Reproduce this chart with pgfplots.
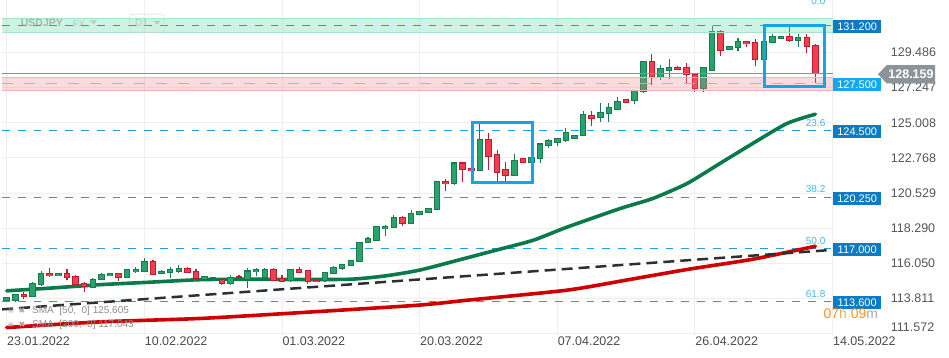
\documentclass[border=0pt]{standalone}
\usepackage{fontspec}
\setmainfont{Liberation Sans}
\newfontfamily\dejavu{DejaVu Sans}
\usepackage{pgfplots}
\usepackage{pgfplotstable}
\pgfplotsset{compat=1.18}

\definecolor{gbody}{HTML}{26A46C}
\definecolor{gedge}{HTML}{1B7A4D}
\definecolor{rbody}{HTML}{F23F50}
\definecolor{redge}{HTML}{C21B2E}
\definecolor{smaG}{HTML}{0B7A4B}
\definecolor{smaR}{HTML}{D10000}
\definecolor{fib}{HTML}{1D9EE5}
\definecolor{fibtxt}{HTML}{45B5F0}
\definecolor{boxdark}{HTML}{0C7BC3}
\definecolor{boxlight}{HTML}{14A8EE}
\definecolor{hibox}{HTML}{12A5EC}
\definecolor{gridcol}{HTML}{EFEFEF}
\definecolor{tickcol}{HTML}{555555}
\definecolor{datecol}{HTML}{4A4A4A}
\definecolor{gband}{HTML}{6FDCB4}
\definecolor{gbandedge}{HTML}{A3E4CB}
\definecolor{rband}{HTML}{F27E89}
\definecolor{rbandedge}{HTML}{F3B4B9}
\definecolor{supline}{HTML}{A0B9D6}
\definecolor{pricegray}{HTML}{8A9499}
\definecolor{trend}{HTML}{2B3035}
\definecolor{orange}{HTML}{F7941D}

% candles: index, open, high, low, close
\pgfplotstableread{
i o h l c
0 113.71 113.92 113.66 113.88
1 113.66 114.12 113.62 114.09
3 113.92 114.85 113.88 114.77
4 114.68 115.57 114.58 115.40
6 115.27 115.44 115.24 115.40
10 114.51 115.10 114.48 115.04
11 115.04 115.46 115.00 115.31
12 115.27 115.44 115.24 115.40
14 115.15 115.71 115.12 115.67
15 115.52 115.82 115.46 115.67
16 115.56 116.37 115.53 116.16
18 115.40 115.60 115.37 115.56
19 115.46 115.82 115.10 115.67
20 115.56 115.93 115.46 115.74
23 115.06 115.25 115.04 115.21
24 115.10 115.18 115.06 115.14
26 114.77 115.29 114.64 115.15
28 115.04 115.74 114.48 115.56
29 115.53 115.74 115.25 115.65
30 115.15 115.74 115.10 115.65
33 114.93 115.72 114.89 115.65
37 114.93 115.53 114.89 115.46
38 115.40 115.86 115.36 115.78
39 115.72 116.02 115.62 115.99
40 115.89 116.28 115.86 116.25
41 116.16 117.40 116.13 117.37
42 117.37 117.70 117.34 117.66
43 117.53 118.42 117.50 118.38
44 118.26 118.47 117.79 118.38
45 118.32 119.16 118.28 118.95
47 118.57 119.42 118.54 119.21
48 119.16 119.38 119.12 119.34
49 119.27 119.57 119.24 119.53
50 119.48 121.30 119.45 121.24
52 121.11 122.47 121.05 122.44
55 121.98 124.98 121.95 123.92
59 121.64 123.03 121.60 122.59
61 122.48 122.86 122.45 122.82
62 122.76 123.70 122.44 123.65
63 123.56 124.00 123.40 123.86
64 123.75 124.00 123.50 123.97
65 123.90 124.66 123.80 124.41
66 124.03 124.25 124.00 124.22
67 124.18 125.76 124.15 125.51
69 125.36 126.25 125.08 125.68
70 125.57 126.25 125.08 125.95
71 125.87 126.62 125.84 126.38
73 126.40 127.12 126.20 127.08
74 126.99 128.96 126.90 128.93
76 127.88 128.68 127.73 128.43
77 128.34 129.05 127.79 128.55
81 127.16 128.55 126.95 128.51
82 128.36 131.16 128.33 130.79
84 129.68 129.92 129.65 129.89
85 129.78 130.41 129.59 130.20
88 129.04 130.23 129.00 130.20
89 130.12 130.69 130.06 130.52
90 130.37 130.55 130.34 130.52
92 130.22 130.69 129.80 130.46
}\greentab

\pgfplotstableread{
i o h l c
2 114.09 114.20 113.81 113.92
5 115.40 115.74 115.15 115.25
7 115.40 115.68 114.98 115.15
8 115.21 115.30 114.65 114.72
9 114.77 114.85 114.23 114.60
13 115.40 115.44 114.93 115.15
17 116.16 116.25 115.30 115.36
21 115.74 115.82 115.46 115.50
22 115.56 115.67 114.98 115.10
25 115.02 115.10 114.70 114.77
27 115.21 115.29 115.10 115.15
31 115.65 115.74 114.93 114.98
32 115.10 115.29 114.85 114.89
34 115.67 115.84 115.48 115.50
35 115.59 115.62 114.72 114.89
36 114.98 115.02 114.86 114.89
46 118.95 119.04 118.42 118.57
51 121.24 121.43 120.64 121.11
53 122.44 122.50 121.21 122.06
54 122.06 122.10 121.90 121.94
56 123.92 124.35 121.99 122.86
57 122.97 123.24 121.32 121.85
58 122.02 122.48 121.32 121.64
60 122.70 122.74 122.45 122.48
68 125.47 125.76 124.77 125.30
72 126.46 126.50 126.28 126.32
75 128.93 129.38 127.41 127.88
78 128.55 128.60 128.38 128.41
79 128.55 128.81 127.52 128.09
80 128.09 128.12 126.99 127.16
83 130.79 130.90 129.27 129.63
86 130.20 130.24 129.80 130.03
87 130.14 130.33 128.64 129.04
91 130.52 131.11 130.12 130.22
93 130.46 130.69 129.42 129.84
94 129.95 130.00 127.52 128.16
}\redtab

\begin{document}
\begin{tikzpicture}
\path[use as bounding box] (-2pt,-23pt) rectangle (947pt,335pt);
\begin{axis}[
  at={(0pt,0pt)}, anchor=south west,
  scale only axis, width=831pt, height=335pt,
  xmin=-0.55, xmax=96.05, ymin=111.486, ymax=132.824,
  axis line style={draw=none},
  major tick length=0pt,
  clip mode=individual,
  grid=major,
  major grid style={draw=gridcol, line width=1pt},
  xtick={0,16,32,48,64,80,96},
  xticklabels={23.01.2022,10.02.2022,01.03.2022,20.03.2022,07.04.2022,26.04.2022,14.05.2022},
  xticklabel style={anchor=north west, inner sep=0pt, xshift=0.3pt, yshift=-1.8pt,
    font=\fontsize{12.5}{14}\selectfont, text=datecol},
  ytick={113.811,116.050,118.290,120.529,122.768,125.008,127.247,129.486},
  yticklabels={113.811,116.050,118.290,120.529,122.768,125.008,127.247,129.486},
  yticklabel pos=right,
  yticklabel style={anchor=west, inner sep=0pt, xshift=57.7pt,
    font=\fontsize{12.5}{14}\selectfont, text=tickcol},
  extra y ticks={111.572},
  extra y tick labels={111.572},
  extra y tick style={yticklabel style={yshift=6.5pt}},
]

% fibonacci / level lines
\addplot[fib, line width=1.3pt, dash pattern=on 7.7pt off 8.1pt] coordinates {(-0.55,124.5) (96.05,124.5)};
\addplot[fib, line width=1.3pt, dash pattern=on 7.7pt off 8.1pt] coordinates {(-0.55,120.25) (96.05,120.25)};
\addplot[fib, line width=1.3pt, dash pattern=on 7.7pt off 8.1pt] coordinates {(-0.55,117.0) (96.05,117.0)};
\addplot[fib, line width=1.3pt, dash pattern=on 7.7pt off 8.1pt] coordinates {(-0.55,113.6) (96.05,113.6)};

% moving averages and trend line
\addplot[smaR, line width=3.6pt, smooth, tension=0.4, line join=round, line cap=round] coordinates {
(0,111.96) (10.8,112.32) (22.5,112.54) (34.1,112.91) (47.7,113.38) (53.5,113.70)
(65.1,114.34) (72.4,115.02) (79.1,115.66) (86.7,116.31) (94,117.14)};
\addplot[trend, line width=2.5pt, dash pattern=on 11pt off 6pt] coordinates {(-0.55,113.12) (95.3,116.88)};
\addplot[smaG, line width=3.6pt, smooth, tension=0.4, line join=round, line cap=round] coordinates {
(0,114.30) (5,114.47) (10.8,114.69) (16.7,114.85) (22.5,115.01) (28.3,115.04) (34,115.02)
(40,115.04) (44,115.25) (48,115.62) (53.5,116.40) (57.3,116.95) (61.2,117.52) (65.1,118.35)
(71.3,119.54) (75.1,120.18) (79.1,121.14) (82.9,122.41) (86.7,123.68) (90.7,124.96) (94,125.55)};

% wicks
\addplot[draw=none, mark=none, error bars/.cd, y dir=both, y explicit, error mark=none,
  error bar style={draw=gedge, line width=1.1pt}]
  table[x=i, y expr={(\thisrow{h}+\thisrow{l})/2}, y error expr={(\thisrow{h}-\thisrow{l})/2}] {\greentab};
\addplot[draw=none, mark=none, error bars/.cd, y dir=both, y explicit, error mark=none,
  error bar style={draw=redge, line width=1.1pt}]
  table[x=i, y expr={(\thisrow{h}+\thisrow{l})/2}, y error expr={(\thisrow{h}-\thisrow{l})/2}] {\redtab};
% bodies: edge
\addplot[draw=none, mark=none, error bars/.cd, y dir=both, y explicit, error mark=none,
  error bar style={draw=gedge, line width=6.5pt}]
  table[x=i, y expr={(\thisrow{o}+\thisrow{c})/2}, y error expr={max(abs(\thisrow{c}-\thisrow{o})/2,0.045)+0.035}] {\greentab};
\addplot[draw=none, mark=none, error bars/.cd, y dir=both, y explicit, error mark=none,
  error bar style={draw=redge, line width=6.5pt}]
  table[x=i, y expr={(\thisrow{o}+\thisrow{c})/2}, y error expr={max(abs(\thisrow{c}-\thisrow{o})/2,0.045)+0.035}] {\redtab};
% bodies: fill
\addplot[draw=none, mark=none, error bars/.cd, y dir=both, y explicit, error mark=none,
  error bar style={draw=gbody, line width=4.5pt}]
  table[x=i, y expr={(\thisrow{o}+\thisrow{c})/2}, y error expr={max(abs(\thisrow{c}-\thisrow{o})/2-0.03,0)}] {\greentab};
\addplot[draw=none, mark=none, error bars/.cd, y dir=both, y explicit, error mark=none,
  error bar style={draw=rbody, line width=4.5pt}]
  table[x=i, y expr={(\thisrow{o}+\thisrow{c})/2}, y error expr={max(abs(\thisrow{c}-\thisrow{o})/2-0.03,0)}] {\redtab};

% zones
\addplot[draw=none, fill=gband, fill opacity=0.35] coordinates {(-0.55,130.74) (96.05,130.74) (96.05,131.66) (-0.55,131.66)} -- cycle;
\addplot[gbandedge, line width=1pt] coordinates {(-0.55,130.74) (96.05,130.74)};
\addplot[gbandedge, line width=1pt] coordinates {(-0.55,131.66) (96.05,131.66)};
\addplot[draw=none, fill=rband, fill opacity=0.28] coordinates {(-0.55,127.09) (96.05,127.09) (96.05,127.88) (-0.55,127.88)} -- cycle;
\addplot[rbandedge, line width=1pt] coordinates {(-0.55,127.09) (96.05,127.09)};
\addplot[rbandedge, line width=1pt] coordinates {(-0.55,127.88) (96.05,127.88)};
\addplot[fib, line width=1.3pt, dash pattern=on 7.7pt off 8.1pt] coordinates {(-0.55,131.2) (96.05,131.2)};
\addplot[supline, line width=1.3pt, dash pattern=on 10.5pt off 11.5pt] coordinates {(-0.55,127.5) (96.05,127.5)};
% current price line
\addplot[pricegray, line width=1.2pt] coordinates {(-0.55,128.159) (96.05,128.159)};

% highlight boxes
\draw[hibox, line width=3pt] (axis cs:54.20,124.99) rectangle (axis cs:61.06,121.23);
\draw[hibox, line width=3pt] (axis cs:88.12,131.18) rectangle (axis cs:95.03,127.33);

% fib labels
\node[anchor=east, inner sep=0pt, text=fibtxt, font=\fontsize{10}{12}\selectfont] at (axis cs:95.18,132.73) {0.0};
\node[anchor=east, inner sep=0pt, text=fibtxt, font=\fontsize{10}{12}\selectfont] at (axis cs:95.18,125.0) {23.6};
\node[anchor=east, inner sep=0pt, text=fibtxt, font=\fontsize{10}{12}\selectfont] at (axis cs:95.18,120.75) {38.2};
\node[anchor=east, inner sep=0pt, text=fibtxt, font=\fontsize{10}{12}\selectfont] at (axis cs:95.18,117.5) {50.0};
\node[anchor=east, inner sep=0pt, text=fibtxt, font=\fontsize{10}{12}\selectfont] at (axis cs:95.18,114.1) {61.8};

\coordinate (b1) at (axis cs:96.05,131.2);
\coordinate (b2) at (axis cs:96.05,127.5);
\coordinate (b3) at (axis cs:96.05,124.5);
\coordinate (b4) at (axis cs:96.05,120.25);
\coordinate (b5) at (axis cs:96.05,117.0);
\coordinate (b6) at (axis cs:96.05,113.6);
\coordinate (pl) at (axis cs:96.05,128.159);
\end{axis}

% level boxes
\tikzset{lvl/.style={anchor=west, inner sep=0pt, minimum width=48pt, minimum height=12.7pt,
  text=white, font=\fontsize{11}{12}\selectfont}}
\node[lvl, fill=boxdark] at ([yshift=-1pt]b1) {131.200};
\node[lvl, fill=boxlight] at ([yshift=-1pt]b2) {127.500};
\node[lvl, fill=boxdark] at ([yshift=-1pt]b3) {124.500};
\node[lvl, fill=boxdark] at ([yshift=-1pt]b4) {120.250};
\node[lvl, fill=boxdark] at ([yshift=-1pt]b5) {117.000};
\node[lvl, fill=boxdark] at ([yshift=-1pt]b6) {113.600};

% current price label
\fill[pricegray] ([shift={(45pt,-1pt)}]pl) -- ([shift={(53.7pt,8.2pt)}]pl) -- ([shift={(102pt,8.2pt)}]pl)
  -- ([shift={(102pt,-10.2pt)}]pl) -- ([shift={(53.7pt,-10.2pt)}]pl) -- cycle;
\node[inner sep=0pt, text=white, font=\fontsize{12.5}{14}\selectfont\bfseries] at ([shift={(78pt,-1pt)}]pl) {128.159};

% timer
\node[anchor=west, inner sep=0pt, font=\fontsize{14}{16}\selectfont] at (821.3pt,21.5pt)
  {\textcolor{orange}{07}\textcolor[HTML]{E8B070}{h} \textcolor{orange}{09}\textcolor[HTML]{A8A8A8}{m}};

% indicator legend
\node[inner sep=0pt, text=black!35, font=\dejavu\fontsize{8}{9}\selectfont] at (9pt,24pt) {≡};
\node[inner sep=0pt, text=black!35, font=\dejavu\fontsize{8}{9}\selectfont] at (20pt,24pt) {✖};
\node[anchor=west, inner sep=0pt, text=black!45, font=\fontsize{10}{12}\selectfont] at (30pt,24pt) {SMA~~[50,~~0]~125.605};
\node[inner sep=0pt, text=black!35, font=\dejavu\fontsize{8}{9}\selectfont] at (9pt,10pt) {≡};
\node[inner sep=0pt, text=black!35, font=\dejavu\fontsize{8}{9}\selectfont] at (20pt,10pt) {✖};
\node[anchor=west, inner sep=0pt, text=black!45, font=\fontsize{10}{12}\selectfont] at (30pt,10pt) {SMA~~[200,~~0]~117.043};

% instrument header
\begin{scope}[opacity=0.6]
\node[anchor=west, inner sep=0pt, text=black!45, font=\fontsize{10.5}{12}\selectfont\bfseries] at (18.7pt,311.7pt) {USDJPY};
\node[anchor=west, inner sep=0pt, text=black!35, font=\fontsize{9.5}{11}\selectfont] at (70.7pt,311.2pt) {FX};
\fill[black!30] (88pt,314.6pt) -- (95pt,314.6pt) -- (91.5pt,310.8pt) -- cycle;
\draw[black!18, line width=0.8pt, rounded corners=3pt] (127.3pt,302.7pt) rectangle (162.3pt,320.7pt);
\node[anchor=west, inner sep=0pt, text=black!35, font=\fontsize{10}{12}\selectfont] at (133pt,311.5pt) {D1};
\fill[black!30] (151.3pt,314pt) -- (158.7pt,314pt) -- (155pt,310.5pt) -- cycle;
\end{scope}
\end{tikzpicture}
\end{document}
